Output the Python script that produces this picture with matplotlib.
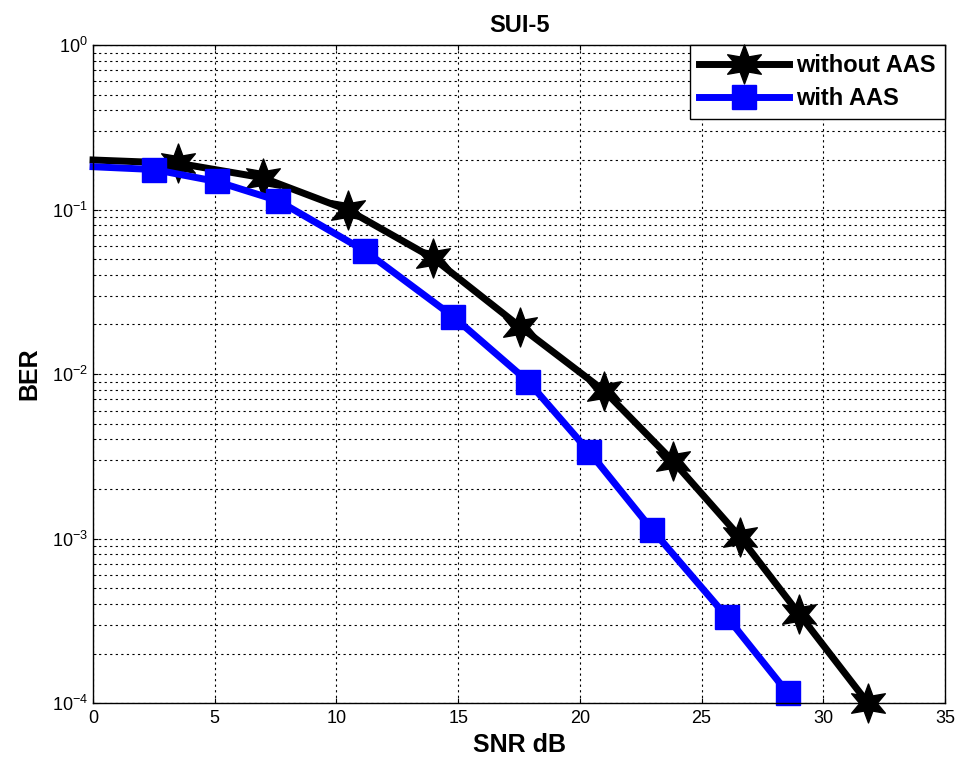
import numpy as np
import matplotlib
matplotlib.use('Agg')
from matplotlib import pyplot as plt
from matplotlib.path import Path
from matplotlib.ticker import LogLocator, NullFormatter

plt.rcParams['font.family'] = ['Liberation Sans', 'DejaVu Sans']

# data
snr_without = [0, 3.5, 6.97, 10.49, 13.98, 17.54, 21.0, 23.82, 26.58, 29.02, 31.83]
ber_without = [0.2, 0.191, 0.156, 0.099, 0.0505, 0.0194, 0.0079, 0.00296, 0.00102, 0.000346, 0.0001]
snr_with = [0, 2.51, 5.08, 7.61, 11.17, 14.8, 17.88, 20.38, 22.97, 26.03, 28.54]
ber_with = [0.182, 0.175, 0.148, 0.113, 0.056, 0.0223, 0.00898, 0.00337, 0.00113, 0.000335, 0.000115]

fig = plt.figure(figsize=(9.6, 7.64), dpi=100)
ax = fig.add_axes([0.0969, 0.0798, 0.8875, 0.8613])

# MATLAB-like hexagram
star6 = Path.unit_regular_star(6, innerCircle=0.45)
ax.semilogy(snr_without, ber_without, color='k', lw=5, marker=star6, ms=28,
            markevery=list(range(1, len(snr_without))), label='without AAS', clip_on=False)
ax.semilogy(snr_with, ber_with, color='b', lw=5, marker='s', ms=17,
            markevery=list(range(1, len(snr_with))), label='with AAS', clip_on=False)

ax.set_xlim(0, 35)
ax.set_ylim(1e-4, 1)
ax.set_xticks(np.arange(0, 36, 5))
ax.yaxis.set_major_locator(LogLocator(base=10, numticks=10))
ax.yaxis.set_minor_locator(LogLocator(base=10, subs=np.arange(2, 10), numticks=10))
ax.yaxis.set_minor_formatter(NullFormatter())

ax.grid(True, which='major', color='k', linestyle=(0, (2, 3)), linewidth=0.8)
ax.grid(True, which='minor', axis='y', color='k', linestyle=(0, (2, 3)), linewidth=0.8)
ax.tick_params(which='both', direction='in', top=True, right=True, labelsize=13)
ax.tick_params(axis='x', pad=5)
for s in ax.spines.values():
    s.set_linewidth(1.0)

ax.set_title('SUI-5', fontsize=17, fontweight='bold', pad=9)
ax.set_xlabel('SNR dB', fontsize=18, fontweight='bold', labelpad=4)
ax.set_ylabel('BER', fontsize=18, fontweight='bold', labelpad=8)

leg = ax.legend(loc='upper right', prop={'weight': 'bold', 'size': 17},
                fancybox=False, edgecolor='k', framealpha=1, borderaxespad=0.0,
                handlelength=3.8, handletextpad=0.3, labelspacing=0.4, borderpad=0.4)
leg.get_frame().set_linewidth(1.0)

fig.savefig('out.png', dpi=100)
